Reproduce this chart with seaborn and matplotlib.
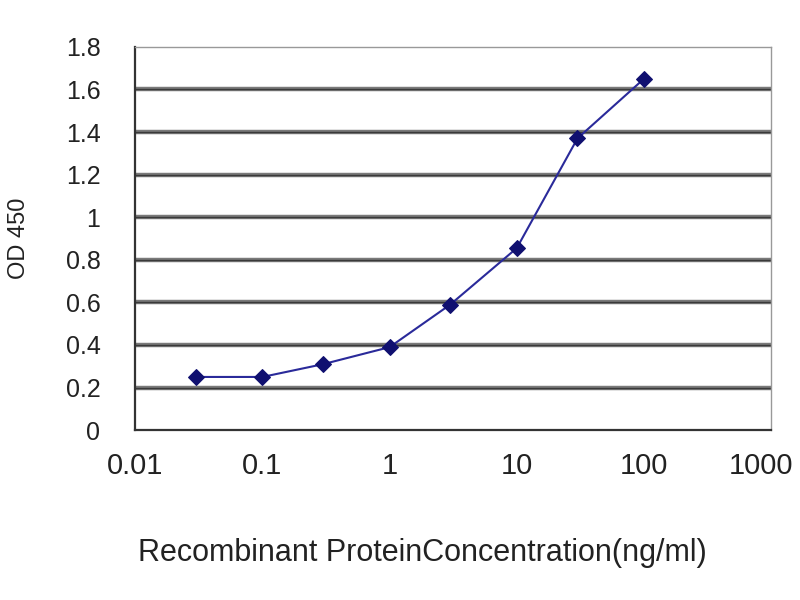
import pandas as pd
import seaborn as sns
import matplotlib.pyplot as plt
import matplotlib.transforms as mtransforms
from matplotlib.ticker import FixedLocator, FixedFormatter, NullLocator

concentration = [0.03, 0.1, 0.3, 1, 3, 10, 30, 100]
od450 = [0.25, 0.25, 0.31, 0.39, 0.59, 0.855, 1.37, 1.65]
x_ticks = [0.01, 0.1, 1, 10, 100, 1000]
x_labels = ["0.01", "0.1", "1", "10", "100", "1000"]
y_ticks = [0, 0.2, 0.4, 0.6, 0.8, 1, 1.2, 1.4, 1.6, 1.8]
y_labels = ["0", "0.2", "0.4", "0.6", "0.8", "1", "1.2", "1.4", "1.6", "1.8"]

df = pd.DataFrame({"conc": concentration, "od": od450})

sns.set_style("white")
plt.rcParams['font.family'] = ['Liberation Sans', 'DejaVu Sans']

fig = plt.figure(figsize=(8, 6), dpi=100)
ax = fig.add_axes([0.169, 0.283, 0.795, 0.639])

for y in y_ticks[1:-1]:
    ax.axhline(y, color="#7a7a7a", lw=3.2, zorder=1)
    ax.axhline(y, color="#3a3a3a", lw=1.0, zorder=1)

sns.lineplot(data=df, x="conc", y="od", ax=ax, color="#2a2a9a", lw=1.5,
             marker="D", markersize=8, markerfacecolor="#101070",
             markeredgecolor="#101070", zorder=3)

ax.set_xscale("log")
ax.set_xlim(0.01, 1000)
ax.set_ylim(0, 1.8)
ax.xaxis.set_major_locator(FixedLocator(x_ticks))
ax.xaxis.set_major_formatter(FixedFormatter(x_labels))
ax.xaxis.set_minor_locator(NullLocator())
ax.set_yticks(y_ticks)
ax.set_yticklabels(y_labels)

ax.tick_params(axis="x", direction="in", length=7, width=1.2, color="#333333",
               labelsize=21, pad=16, labelcolor="#222222")
ax.tick_params(axis="y", length=0, labelsize=18, pad=25, labelcolor="#222222")

# nudge the last x label so it stays inside the figure
last = ax.get_xticklabels()[-1]
last.set_transform(last.get_transform() +
                   mtransforms.ScaledTranslation(-7 / 72, 0, fig.dpi_scale_trans))

for side in ["left", "bottom"]:
    ax.spines[side].set_color("#333333")
    ax.spines[side].set_linewidth(1.6)
for side in ["top", "right"]:
    ax.spines[side].set_color("#999999")
    ax.spines[side].set_linewidth(1.0)

ax.set_xlabel("Recombinant ProteinConcentration(ng/ml)", fontsize=22,
              color="#222222")
ax.set_ylabel("OD 450", fontsize=17, color="#222222")
ax.xaxis.set_label_coords(0.451, -0.282)
ax.yaxis.set_label_coords(-0.165, 0.5)

fig.savefig("out.png", dpi=100)
